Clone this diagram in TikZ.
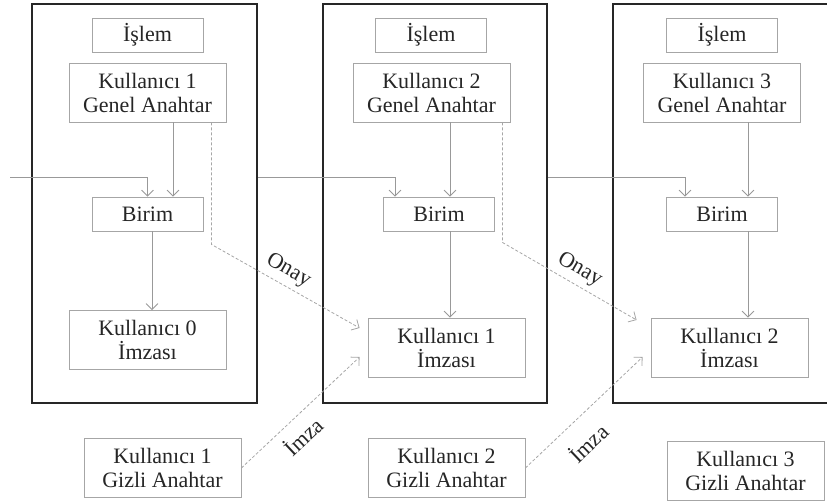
\documentclass[tikz,border=0pt]{standalone}
\usepackage{fontspec}
\setmainfont{Liberation Serif}
\usetikzlibrary{arrows.meta}

\begin{document}
\begin{tikzpicture}[x=0.5pt, y=-0.5pt,
    font=\fontsize{11}{12}\selectfont,
    kutu/.style={rectangle, draw=gray!70, fill=white, text=black!85, inner sep=0pt, align=center},
    kucuk/.style={kutu, minimum width=55.5pt, minimum height=17pt},
    buyuk/.style={kutu, minimum width=78.5pt, minimum height=29.5pt},
    blok/.style={rectangle, draw=black!85, line width=1.1pt, minimum height=199.5pt},
    ok/.style={-{Straight Barb[length=3pt, width=6pt]}, draw=gray!80},
    onay/.style={ok, dash pattern=on 1.5pt off 1pt, draw=gray!70},
    etiket/.style={text=black!85, sloped, inner sep=1pt}]
    \path[use as bounding box, clip] (0,0) rectangle (827,504);

    % bloklar
    \node[blok, minimum width=112.5pt] (blok1) at (144.5,203.5) {};
    \node[blok, minimum width=112pt] (blok2) at (435,203.5) {};
    \node[blok, minimum width=113.5pt] (blok3) at (726.5,203.5) {};

    % 1. blok
    \node[kucuk] (islem1) at (147.5,35) {İşlem};
    \node[buyuk] (genel1) at (147.5,92.5) {Kullanıcı 1\\Genel Anahtar};
    \node[kucuk] (birim1) at (147.5,214) {Birim};
    \node[buyuk] (imza0) at (147.5,340) {Kullanıcı 0\\İmzası};
    \node[buyuk] (gizli1) at (162.5,468) {Kullanıcı 1\\Gizli Anahtar};

    % 2. blok
    \node[kucuk] (islem2) at (431,35) {İşlem};
    \node[buyuk] (genel2) at (431.5,92.5) {Kullanıcı 2\\Genel Anahtar};
    \node[kucuk] (birim2) at (439,214) {Birim};
    \node[buyuk] (imza1) at (446.5,347.5) {Kullanıcı 1\\İmzası};
    \node[buyuk] (gizli2) at (446.5,468) {Kullanıcı 2\\Gizli Anahtar};

    % 3. blok
    \node[kucuk] (islem3) at (722,35) {İşlem};
    \node[buyuk] (genel3) at (722,92.5) {Kullanıcı 3\\Genel Anahtar};
    \node[kucuk] (birim3) at (722,214) {Birim};
    \node[buyuk] (imza2) at (729.5,347.5) {Kullanıcı 2\\İmzası};
    \node[buyuk] (gizli3) at (745.5,471) {Kullanıcı 3\\Gizli Anahtar};

    % zincir
    \coordinate (giris) at (10,177);
    \draw[ok] (giris) -| (birim1.north);
    \draw[ok] (blok1.east |- giris) -| ([xshift=-22pt]birim2.north);
    \draw[ok] (blok2.east |- giris) -| ([xshift=-18.5pt]birim3.north);

    \draw[ok] ([xshift=12.75pt]genel1.south) -- ([xshift=12.75pt]genel1.south |- birim1.north);
    \draw[ok] ([xshift=9.25pt]genel2.south) -- ([xshift=9.25pt]genel2.south |- birim2.north);
    \draw[ok] ([xshift=13pt]genel3.south) -- ([xshift=13pt]genel3.south |- birim3.north);

    \draw[ok] ([xshift=2.25pt]birim1.south) -- ([xshift=2.25pt]birim1.south |- imza0.north);
    \draw[ok] ([xshift=5.5pt]birim2.south) -- ([xshift=5.5pt]birim2.south |- imza1.north);
    \draw[ok] ([xshift=13pt]birim3.south) -- ([xshift=13pt]birim3.south |- imza2.north);

    % onay ve imza
    \draw[onay] ([xshift=-7.5pt]genel1.south east) -- ++(0,122)
        -- node[etiket, pos=.47, above=1.5pt] {Onay} ([xshift=-4pt, yshift=9.75pt]imza1.west);
    \draw[onay] ([xshift=-4pt]genel2.south east) -- ++(0,120)
        -- node[etiket, pos=.52, above=1.5pt] {Onay} ([xshift=-7pt, yshift=13.75pt]imza2.west);
    \draw[onay] (gizli1.east)
        -- node[etiket, pos=.41, below=3.5pt] {İmza} ([xshift=-4pt, yshift=-4.75pt]imza1.west);
    \draw[onay] (gizli2.east)
        -- node[etiket, pos=.39, below=6.5pt] {İmza} ([xshift=-4pt, yshift=-4.75pt]imza2.west);
\end{tikzpicture}
\end{document}
